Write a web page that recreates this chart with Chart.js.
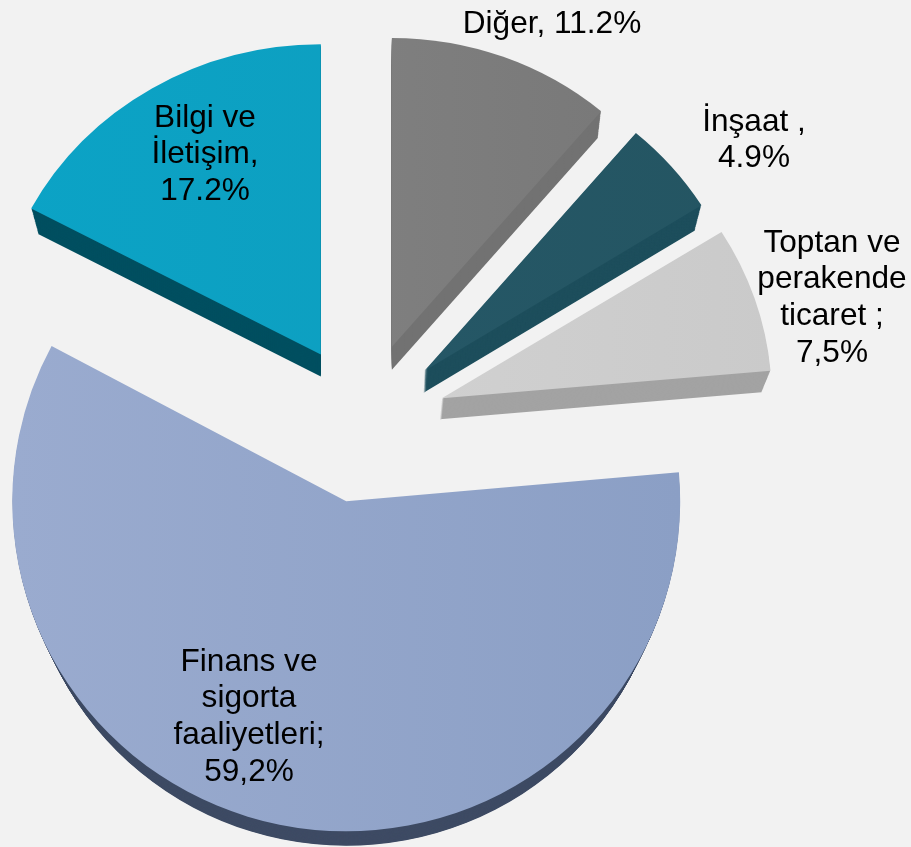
<!DOCTYPE html>
<html>
<head>
<meta charset="utf-8">
<script src="https://cdn.jsdelivr.net/npm/chart.js@4"></script>
<style>
  html, body { margin: 0; padding: 0; background: #f2f2f2; overflow: hidden; }
  canvas { display: block; }
</style>
</head>
<body>
<canvas id="pie" width="911" height="847"></canvas>
<script>
const categories = ['Diğer', 'İnşaat', 'Toptan ve perakende ticaret', 'Finans ve sigorta faaliyetleri', 'Bilgi ve İletişim'];
const values = [11.2, 4.9, 7.5, 59.2, 17.2];
const labelLines = [
  ['Diğer, 11.2%'],
  ['İnşaat ,', '4.9%'],
  ['Toptan ve', 'perakende', 'ticaret ;', '7,5%'],
  ['Finans ve', 'sigorta', 'faaliyetleri;', '59,2%'],
  ['Bilgi ve', 'İletişim,', '17.2%']
];

// slice look, same order as categories
const topLeft = ['#878787', '#26596a', '#d6d6d6', '#9aabcf', '#0ba3c6'];
const topRight = ['#767676', '#245562', '#cacaca', '#8b9fc5', '#0f9dbd'];
const sideColor = ['#727272', '#1d4e5c', '#a3a3a3', '#3e4b64', '#004f60'];
const explode = [78, 80, 81, 84, 80];
const nudgeX = [0, -1, 0, -2, -3];
const nudgeY = [0, 3, 4, -1, 3];
const scaleX = [0.98, 0.99, 1, 1.012, 0.995];
const scaleY = [0.936, 0.945, 0.95, 1, 0.94];
// the underside is a bit smaller than the top face (perspective)
const depthX = [0, -1, -2, 0, 0];
const depthY = [23, 22, 21, 26, 22];
const depthShrink = [0.015, 0.02, 0.021, 0.035, 0.024];
const labelX = [552, 754, 832, 249, 205];
const labelY = [24, 122, 243, 662, 118];
const lineGap = 36.6;

const canvas = document.getElementById('pie');
const ctx = canvas.getContext('2d');
const fills = topLeft.map((c, i) => {
  const g = ctx.createLinearGradient(35, 0, 695, 0);
  g.addColorStop(0, c);
  g.addColorStop(1, topRight[i]);
  return g;
});

function drawSlice(c, arc, i, dx, dy, shrink) {
  const mid = (arc.startAngle + arc.endAngle) / 2;
  c.save();
  c.translate(Math.cos(mid) * explode[i] + nudgeX[i] + dx, Math.sin(mid) * explode[i] + nudgeY[i] + dy);
  c.translate(arc.x, arc.y);
  c.scale(scaleX[i] * shrink, scaleY[i] * shrink);
  c.translate(-arc.x, -arc.y);
  arc.draw(c);
  c.restore();
}

const explodedPie = {
  id: 'explodedPie',
  beforeDatasetsDraw(chart) {
    const c = chart.ctx;
    const arcs = chart.getDatasetMeta(0).data;
    arcs.forEach((arc, i) => {
      const own = arc.options;
      arc.options = Object.assign({}, own, { backgroundColor: sideColor[i] });
      for (let t = depthY[i]; t > 0; t--) {
        const k = t / depthY[i];
        drawSlice(c, arc, i, depthX[i] * k, t, 1 - depthShrink[i] * k);
      }
      arc.options = own;
      drawSlice(c, arc, i, 0, 0, 1);
    });
    return false;
  },
  afterDraw(chart) {
    const c = chart.ctx;
    c.save();
    c.font = '31.6px "Liberation Sans", Arial, sans-serif';
    c.fillStyle = '#000';
    c.textAlign = 'center';
    c.textBaseline = 'middle';
    labelLines.forEach((lines, i) => {
      lines.forEach((line, n) => c.fillText(line, labelX[i], labelY[i] + n * lineGap));
    });
    c.restore();
  }
};

new Chart(ctx, {
  type: 'pie',
  data: {
    labels: categories,
    datasets: [{
      data: values,
      backgroundColor: fills,
      borderWidth: 0,
      radius: 330
    }]
  },
  options: {
    responsive: false,
    animation: false,
    layout: { padding: { left: 0, right: 181, top: 0, bottom: 7 } },
    plugins: { legend: { display: false }, tooltip: { enabled: false } }
  },
  plugins: [explodedPie]
});
</script>
</body>
</html>
